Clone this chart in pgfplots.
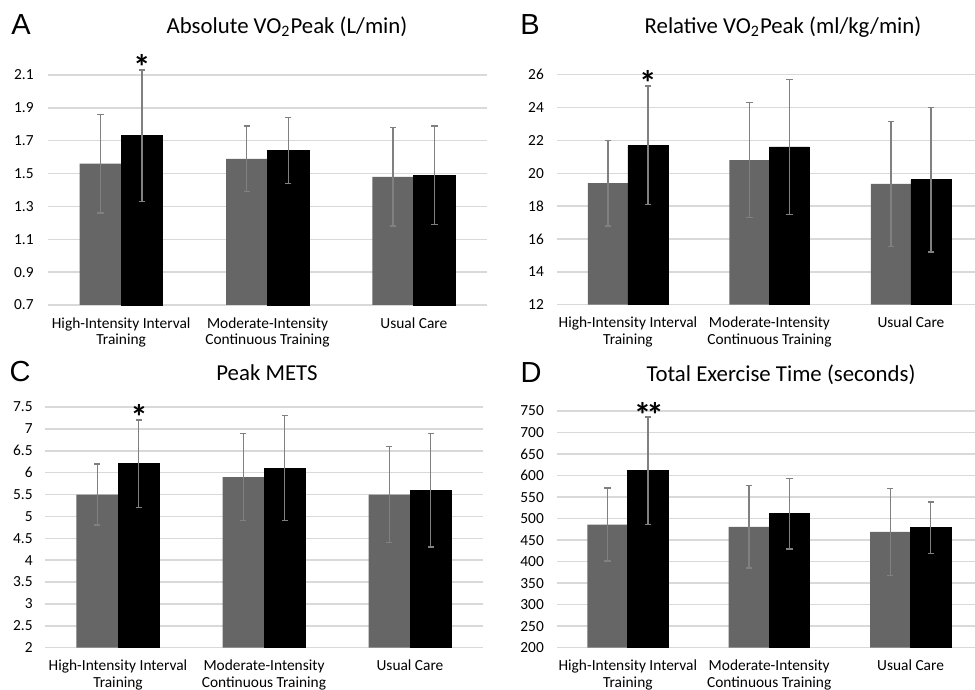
\documentclass[border=0pt]{standalone}
\usepackage{fontspec}
\setmainfont{Carlito}
\newfontfamily\letterfont{Liberation Sans}
\usepackage{pgfplots}
\pgfplotsset{compat=1.18}
\definecolor{bargray}{HTML}{666666}
\definecolor{errgray}{HTML}{808080}
\definecolor{gridgray}{HTML}{D9D9D9}

\pgfplotsset{
 panel/.style={
  scale only axis, clip=false, anchor=south west,
  ybar=0pt,
  xmin=-0.5, xmax=2.5, xtick={0,1,2},
  xticklabels={{High-Intensity Interval\\Training},{Moderate-Intensity\\Continuous Training},{Usual Care}},
  axis line style={draw=none},
  major tick length=0pt,
  ymajorgrids, grid style={gridgray, line width=0.75pt},
  tick label style={font=\fontsize{7.7}{8.2}\selectfont},
  xticklabel style={align=center, anchor=north, inner sep=0pt, yshift=-6pt},
  yticklabel style={anchor=east, inner sep=0pt},
  /pgf/number format/assume math mode=true,
  scaled y ticks=false,
  error bars/y dir=both, error bars/y explicit,
  error bars/error bar style={errgray, line width=0.7pt},
  error bars/error mark options={rotate=90, errgray, mark size=1.6pt, line width=0.7pt},
 },
 grayser/.style={fill=bargray, draw=none},
 blackser/.style={fill=black, draw=black},
}
\tikzset{star/.style={font=\fontsize{17.5}{17.5}\selectfont\bfseries, anchor=base, inner sep=0pt, yshift=-9.4pt},
 ttl/.style={font=\fontsize{11.4}{12}\selectfont, inner sep=0pt},
 letter/.style={font=\fontsize{14.5}{15}\selectfont\letterfont, inner sep=0pt}}

\begin{document}
\begin{tikzpicture}
\useasboundingbox (0,0) rectangle (487.5pt,345pt);
\clip (0,0) rectangle (487.5pt,345pt);

% Panel A
\begin{axis}[panel, at={(24pt,192.5pt)}, width=219.5pt, height=115pt,
  bar width=20.75pt, ymin=0.7, ymax=2.1, ytick={0.7,0.9,1.1,1.3,1.5,1.7,1.9,2.1},
  yticklabel style={xshift=-7pt, /pgf/number format/.cd, fixed, fixed zerofill, precision=1}]
\addplot[grayser] table[x=x,y=y,y error=e] {
x y e
0 1.56 0.30
1 1.59 0.20
2 1.48 0.30
};
\addplot[blackser] table[x=x,y=y,y error=e] {
x y e
0 1.73 0.40
1 1.64 0.20
2 1.49 0.30
};
\node[star] at (axis cs:0.142,2.185) {*};
\end{axis}

% Panel B
\begin{axis}[panel, at={(278.6pt,192.65pt)}, width=212.25pt, height=115pt,
  bar width=20pt, ymin=12, ymax=26, ytick={12,14,...,26},
  yticklabel style={xshift=-6.5pt}]
\addplot[grayser] table[x=x,y=y,y error=e] {
x y e
0 19.4 2.6
1 20.8 3.5
2 19.35 3.8
};
\addplot[blackser] table[x=x,y=y,y error=e] {
x y e
0 21.7 3.6
1 21.6 4.1
2 19.6 4.4
};
\node[star] at (axis cs:0.141,25.88) {*};
\end{axis}

% Panel C
\begin{axis}[panel, at={(22.5pt,21.15pt)}, width=219pt, height=120.35pt,
  bar width=20.75pt, ymin=2, ymax=7.5, ytick={2,2.5,3,3.5,4,4.5,5,5.5,6,6.5,7,7.5},
  yticklabel style={xshift=-6pt}]
\addplot[grayser] table[x=x,y=y,y error=e] {
x y e
0 5.5 0.7
1 5.9 1.0
2 5.5 1.1
};
\addplot[blackser] table[x=x,y=y,y error=e] {
x y e
0 6.2 1.0
1 6.1 1.2
2 5.6 1.3
};
\node[star] at (axis cs:0.144,7.41) {*};
\end{axis}

% Panel D
\begin{axis}[panel, at={(278.6pt,21.15pt)}, width=212pt, height=118.35pt,
  bar width=20.25pt, ymin=200, ymax=750, ytick={200,250,...,750},
  yticklabel style={xshift=-6.5pt}]
\addplot[grayser] table[x=x,y=y,y error=e] {
x y e
0 486 85
1 481 96
2 469 101
};
\addplot[blackser] table[x=x,y=y,y error=e] {
x y e
0 611 125
1 511 82
2 479 60
};
\node[star] at (axis cs:0.148,756) {*\kern-2.5pt*};
\end{axis}

% Titles and panel letters
\node[ttl] at (143.5pt,331.5pt) {Absolute VO\textsubscript{2}Peak (L/min)};
\node[ttl] at (391.5pt,331.5pt) {Relative VO\textsubscript{2}Peak (ml/kg/min)};
\node[ttl] at (133.5pt,158.5pt) {Peak METS};
\node[ttl] at (390.5pt,157.5pt) {Total Exercise Time (seconds)};
\node[letter] at (10.5pt,332.5pt) {A};
\node[letter] at (265pt,332.5pt) {B};
\node[letter] at (10pt,159pt) {C};
\node[letter] at (265.5pt,158.5pt) {D};
\end{tikzpicture}
\end{document}
